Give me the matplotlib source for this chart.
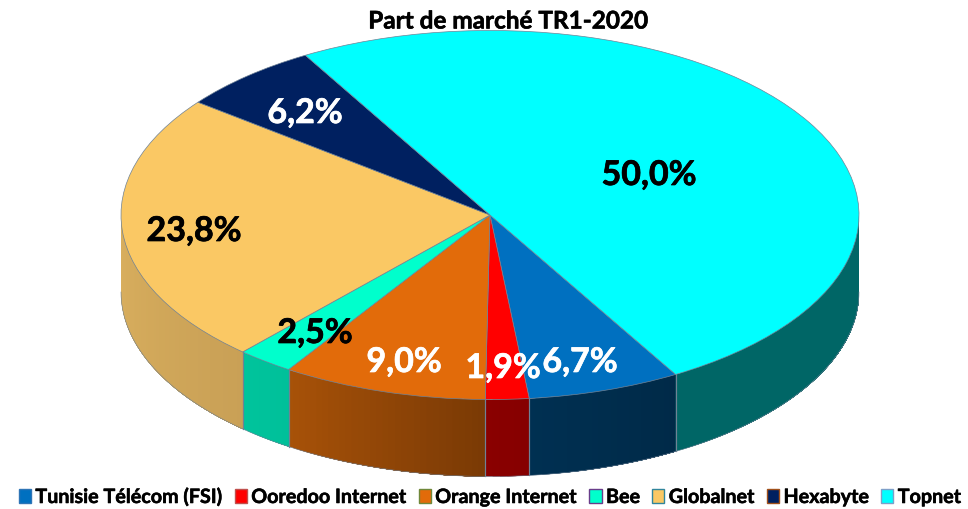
import numpy as np
import matplotlib
matplotlib.use("Agg")
import matplotlib.pyplot as plt
import matplotlib.patheffects as pe
from matplotlib.patches import Wedge, Patch
from matplotlib.colors import to_rgb

plt.rcParams['font.family'] = ['Lato', 'DejaVu Sans']

title = "Part de marché TR1-2020"
categories = ["Tunisie Télécom (FSI)", "Ooredoo Internet", "Orange Internet", "Bee",
              "Globalnet", "Hexabyte", "Topnet"]
values = [6.7, 1.9, 9.0, 2.5, 23.8, 6.2, 50.0]
labels = ["6,7%", "1,9%", "9,0%", "2,5%", "23,8%", "6,2%", "50,0%"]

top_colors = ["#0070C0", "#FF0000", "#E26B0A", "#00FFCC", "#FAC864", "#002060", "#00FFFF"]
wall_left = ["#003052", "#8A0000", "#A85208", "#00C49C", "#DAB05E", "#001848", "#006666"]
wall_right = ["#002A48", "#860000", "#7A3A05", "#00C09A", "#C9A056", "#001848", "#006666"]
legend_edges = ["#2E75B6", "#C0504D", "#70883A", "#6A3D8A", "#31859C", "#A0501A", "#7F9FC8"]
label_colors = ["white", "white", "white", "black", "black", "white", "black"]
label_px = [(580, 363), (503, 369), (404, 363), (315, 334), (194, 232), (305, 114), (649, 176)]

W, H = 968, 510
CX, CY, RX, RY, DEPTH_PX = 490, 216, 369, 184.5, 77
depth = DEPTH_PX / RY
start_deg = -59.8
edge = "#6F8296"


def fatten(artist, width, color):
    artist.set_path_effects([pe.withStroke(linewidth=width, foreground=color)])


fig = plt.figure(figsize=(W / 100, H / 100), dpi=100)
ax = fig.add_axes([0, 0, 1, 1])
ax.set_xlim(-CX / RX, (W - CX) / RX)
ax.set_ylim((CY - H) / RY, CY / RY)
ax.axis("off")

# slice limits, going clockwise from the end of Topnet
sweeps = np.array(values) / np.sum(values) * 360
ends = start_deg - np.concatenate([[0], np.cumsum(sweeps)[:-1]])
starts = ends - sweeps

# side walls: only the front half (180..360 deg) can be seen
for i, (a0, a1) in enumerate(zip(starts, ends)):
    lo, hi = max(a0 % 360, 180), min((a0 % 360) + (a1 - a0), 360)
    if i == 6:  # Topnet wraps past 0: visible from its clockwise end up to 360
        lo, hi = start_deg % 360, 360
    if hi <= lo:
        continue
    n = max(int(hi - lo), 1)
    grid = np.linspace(lo, hi, n + 1)
    c0, c1 = np.array(to_rgb(wall_left[i])), np.array(to_rgb(wall_right[i]))
    # each strip runs to the end of the wall, so no seams show between strips
    for j in range(n):
        t = np.radians(np.linspace(grid[j], hi, 120))
        xs, ys = np.cos(t), np.sin(t)
        col = c0 + (c1 - c0) * (j + 0.5) / n
        ax.fill(np.r_[xs, xs[::-1]], np.r_[ys, ys[::-1] - depth], facecolor=col, edgecolor="none",
                zorder=2)
    t = np.radians(np.linspace(lo, hi, 200))
    ax.plot(np.cos(t), np.sin(t) - depth, color=edge, lw=0.4, zorder=3)
    for ang in (lo, hi):
        if ang not in (180, 360):
            r = np.radians(ang)
            ax.plot([np.cos(r)] * 2, [np.sin(r), np.sin(r) - depth], color=edge, lw=0.8, zorder=3)

# top face
for i, (a0, a1) in enumerate(zip(starts, ends)):
    ax.add_patch(Wedge((0, 0), 1, a0, a1, facecolor=top_colors[i], edgecolor=edge, lw=0.5, zorder=4))

# value labels
for txt, col, (px, py) in zip(labels, label_colors, label_px):
    t = ax.text((px - CX) / RX, (CY - py) / RY, txt, color=col, fontsize=24.5, fontweight="bold",
                ha="center", va="center", zorder=6)
    fatten(t, 0.5, col)

t = fig.text(508 / W, 1 - 22 / H, title, fontsize=17.5, fontweight="bold", ha="center", va="center")
fatten(t, 0.4, "black")

handles = [Patch(facecolor=c, edgecolor=e, lw=1.0) for c, e in zip(top_colors, legend_edges)]
leg = fig.legend(handles, categories, ncol=7, loc="center", bbox_to_anchor=(490 / W, 1 - 498 / H),
                 frameon=False, prop={"size": 14.2, "weight": "bold"},
                 handlelength=0.62, handleheight=0.7, handletextpad=0.22, columnspacing=0.61,
                 borderpad=0, borderaxespad=0)
for txt in leg.get_texts():
    fatten(txt, 0.4, "black")

fig.savefig("out.png", dpi=100, facecolor="white")
